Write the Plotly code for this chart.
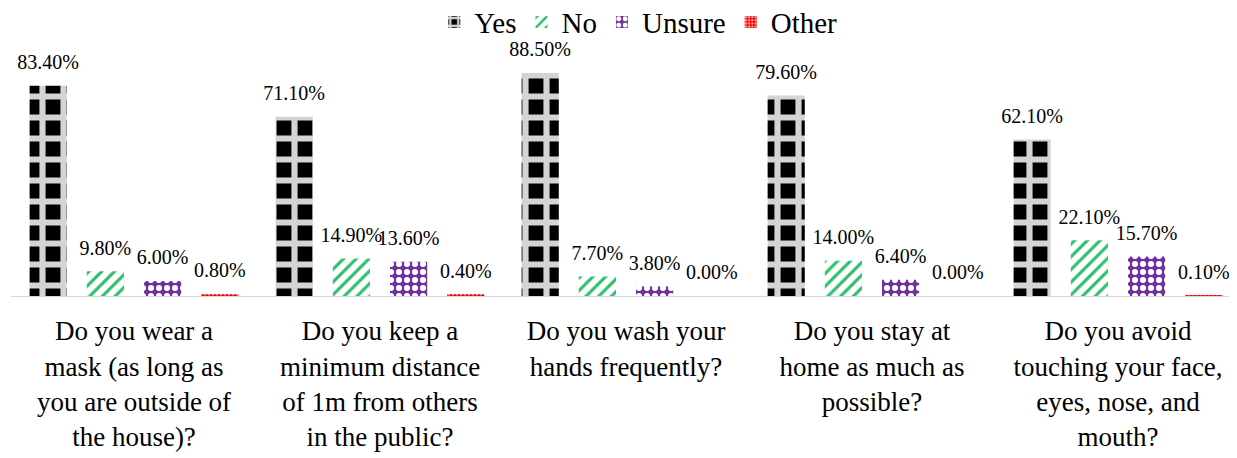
import plotly.graph_objects as go

categories = [
    "Do you wear a<br>mask (as long as<br>you are outside of<br>the house)?",
    "Do you keep a<br>minimum distance<br>of 1m from others<br>in the public?",
    "Do you wash your<br>hands frequently?",
    "Do you stay at<br>home as much as<br>possible?",
    "Do you avoid<br>touching your face,<br>eyes, nose, and<br>mouth?",
]
yes = [83.4, 71.1, 88.5, 79.6, 62.1]
no = [9.8, 14.9, 7.7, 14.0, 22.1]
unsure = [6.0, 13.6, 3.8, 6.4, 15.7]
other = [0.8, 0.4, 0.0, 0.0, 0.1]

series = [
    ("Yes", yes, dict(shape="+", fgcolor="#d4d4d4", bgcolor="#000000", size=21, solidity=0.5, fillmode="replace")),
    ("No", no, dict(shape="/", fgcolor="#2fbf6e", bgcolor="#ffffff", size=9, solidity=0.35, fillmode="replace")),
    ("Unsure", unsure, dict(shape=".", fgcolor="#ffffff", bgcolor="#7030a0", size=8, solidity=0.45, fillmode="replace")),
    ("Other", other, dict(shape=".", fgcolor="#ffb0b0", bgcolor="#ff0000", size=4, solidity=0.4, fillmode="replace")),
]

FONT = "Liberation Serif, Times New Roman, serif"
fig = go.Figure()
for name, vals, pat in series:
    fig.add_trace(go.Bar(
        name=name,
        x=categories,
        y=vals,
        marker=dict(color=pat["bgcolor"], pattern=pat, line=dict(width=0)),
        cliponaxis=False,
    ))
# value labels, grouped like the bars
for name, vals, pat in series:
    fig.add_trace(go.Scatter(
        name=name + " label",
        x=categories,
        y=vals,
        mode="markers+text",
        marker=dict(size=17, opacity=0),
        text=[f"{v:.2f}%" for v in vals],
        textposition="top center",
        textfont=dict(family=FONT, size=20, color="#000000"),
        showlegend=False,
        hoverinfo="skip",
        cliponaxis=False,
    ))

fig.update_layout(
    width=1237,
    height=458,
    margin=dict(l=3, r=4, t=36, b=170, autoexpand=False),
    paper_bgcolor="#ffffff",
    plot_bgcolor="#ffffff",
    barmode="group",
    bargap=0.07,
    bargroupgap=0.35,
    scattermode="group",
    scattergap=0.07,
    font=dict(family=FONT, color="#000000"),
    showlegend=True,
    legend=dict(
        orientation="h",
        x=0.51, xanchor="center",
        y=1.087, yref="paper", yanchor="middle",
        bgcolor="rgba(0,0,0,0)",
        font=dict(family=FONT, size=29, color="#000000"),
        itemwidth=30,
        traceorder="normal",
    ),
    xaxis=dict(
        showline=True, linecolor="#d9d9d9", linewidth=1,
        showgrid=False, ticks="", tickangle=0,
        tickfont=dict(family=FONT, size=27, color="#000000"),
        ticklabelstandoff=11,
        automargin=False,
    ),
    yaxis=dict(
        range=[0, 100], visible=False, showgrid=False, zeroline=False,
    ),
)

fig.write_html("out.html")
